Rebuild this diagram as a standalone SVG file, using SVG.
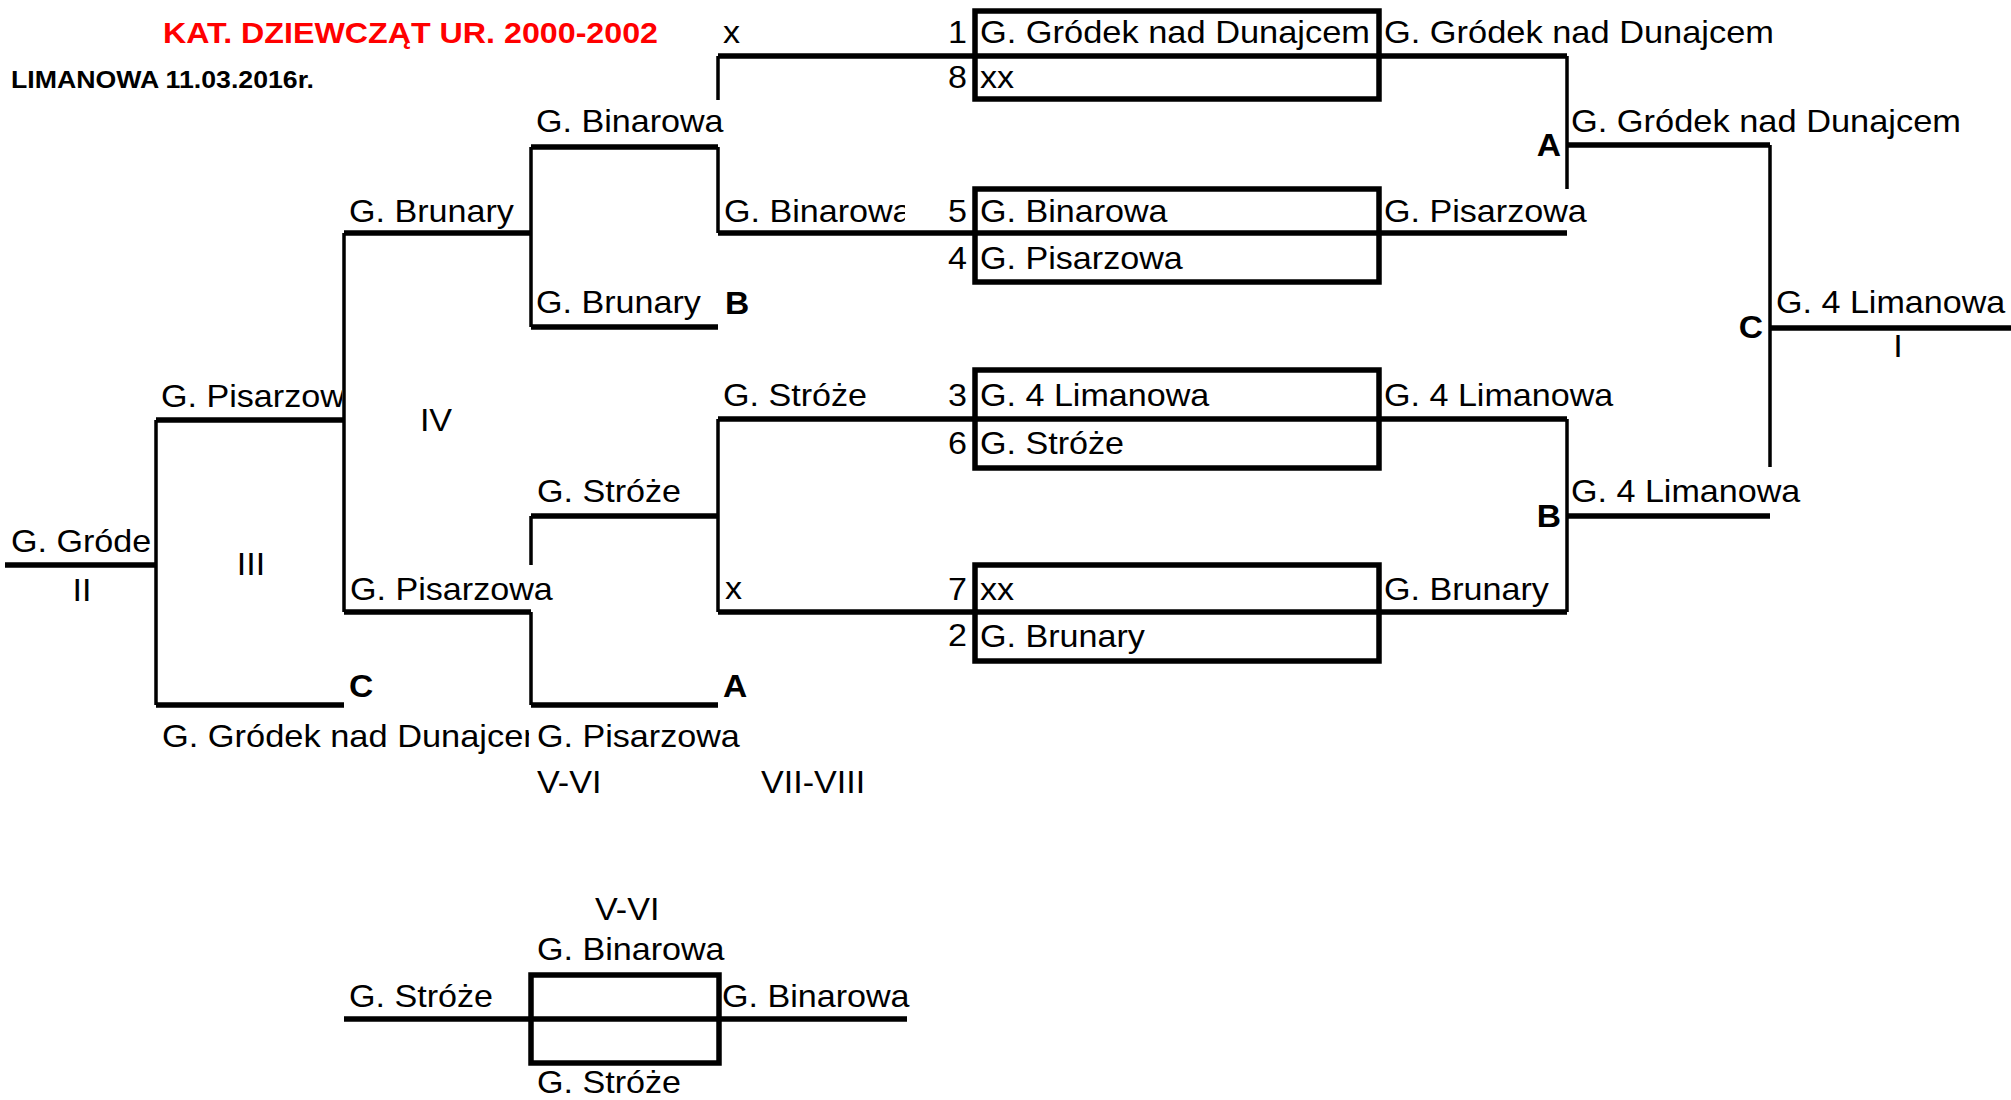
<svg xmlns="http://www.w3.org/2000/svg" width="2011" height="1100" viewBox="0 0 2011 1100">
<style>
.t{font-family:"Liberation Sans",Arial,sans-serif;font-size:31px;fill:#000}
.b{font-family:"Liberation Sans",Arial,sans-serif;font-size:32px;font-weight:bold;fill:#000}
.e{text-anchor:end}
.m{text-anchor:middle}
.h{stroke:#000;stroke-width:5.5;fill:none}
.v{stroke:#000;stroke-width:3.5;fill:none}
.box{stroke:#000;stroke-width:5.5;fill:none}
</style>
<defs>
<clipPath id="cBin"><rect x="700" y="180" width="205" height="60"/></clipPath>
<clipPath id="cGro"><rect x="150" y="710" width="379" height="50"/></clipPath>
<clipPath id="cPis"><rect x="150" y="370" width="192" height="48"/></clipPath>
</defs>

<g id="header">
<text x="163" y="43" textLength="495" lengthAdjust="spacingAndGlyphs" style="font-family:'Liberation Sans',Arial,sans-serif;font-size:30px;font-weight:bold;fill:#FF0000">KAT. DZIEWCZĄT UR. 2000-2002</text>
<text x="11" y="88" textLength="303" lengthAdjust="spacingAndGlyphs" style="font-family:'Liberation Sans',Arial,sans-serif;font-size:23px;font-weight:bold;fill:#000">LIMANOWA 11.03.2016r.</text>
</g>

<g id="connectors">
<path class="h" d="M5 565H156 M156 420H344 M156 705H344 M344 233H531 M344 612H531 M531 147H718 M531 327H718 M531 516H718 M531 705H718 M718 56H1567 M718 233H1567 M718 419H1567 M718 612H1567 M1567 145H1770 M1567 516H1770 M1770 328H2011 M344 1019H907"/>
<path class="v" d="M156 420V705 M344 233V612 M531 147V327 M531 516V565 M531 612V705 M718 56V100 M718 147V233 M718 419V612 M1567 56V189 M1567 419V612 M1770 145V467"/>
</g>

<g id="boxes">
<rect id="box-1-8" class="box" x="975" y="11" width="404" height="88"/>
<rect id="box-5-4" class="box" x="975" y="189" width="404" height="93"/>
<rect id="box-3-6" class="box" x="975" y="370" width="404" height="98"/>
<rect id="box-7-2" class="box" x="975" y="565" width="404" height="96"/>
<rect id="box-5-6" class="box" x="531" y="975" width="188" height="88"/>
</g>

<g id="seeds">
<text class="t e" transform="translate(967 43) scale(1.1 1)">1</text>
<text class="t e" transform="translate(967 88) scale(1.1 1)">8</text>
<text class="t e" transform="translate(967 222) scale(1.1 1)">5</text>
<text class="t e" transform="translate(967 269) scale(1.1 1)">4</text>
<text class="t e" transform="translate(967 406) scale(1.1 1)">3</text>
<text class="t e" transform="translate(967 454) scale(1.1 1)">6</text>
<text class="t e" transform="translate(967 600) scale(1.1 1)">7</text>
<text class="t e" transform="translate(967 646) scale(1.1 1)">2</text>
</g>

<g id="round1">
<text class="t" transform="translate(980 43) scale(1.11 1)">G. Gródek nad Dunajcem</text>
<text class="t" transform="translate(980 88) scale(1.1 1)">xx</text>
<text class="t" transform="translate(980 222) scale(1.1 1)">G. Binarowa</text>
<text class="t" transform="translate(980 269) scale(1.1 1)">G. Pisarzowa</text>
<text class="t" transform="translate(980 406) scale(1.1 1)">G. 4 Limanowa</text>
<text class="t" transform="translate(980 454) scale(1.1 1)">G. Stróże</text>
<text class="t" transform="translate(980 600) scale(1.1 1)">xx</text>
<text class="t" transform="translate(980 647) scale(1.1 1)">G. Brunary</text>
</g>

<g id="semis">
<text class="t" transform="translate(1384 43) scale(1.11 1)">G. Gródek nad Dunajcem</text>
<text class="t" transform="translate(1384 222) scale(1.1 1)">G. Pisarzowa</text>
<text class="t" transform="translate(1384 406) scale(1.1 1)">G. 4 Limanowa</text>
<text class="t" transform="translate(1384 600) scale(1.1 1)">G. Brunary</text>
<text class="b e" transform="translate(1561 156) scale(1.05 1)">A</text>
<text class="b e" transform="translate(1561 527) scale(1.05 1)">B</text>
</g>

<g id="final">
<text class="t" transform="translate(1571 132) scale(1.11 1)">G. Gródek nad Dunajcem</text>
<text class="t" transform="translate(1571 502) scale(1.1 1)">G. 4 Limanowa</text>
<text class="b e" transform="translate(1763 338) scale(1.05 1)">C</text>
<text class="t" transform="translate(1776 313) scale(1.1 1)">G. 4 Limanowa</text>
<text class="t m" transform="translate(1898 357) scale(1.1 1)">I</text>
</g>

<g id="losers-top">
<text class="t" transform="translate(723 43) scale(1.1 1)">x</text>
<text class="t" transform="translate(536 132) scale(1.1 1)">G. Binarowa</text>
<g clip-path="url(#cBin)"><text class="t" transform="translate(724 222) scale(1.1 1)">G. Binarowa</text></g>
<text class="t" transform="translate(349 222) scale(1.1 1)">G. Brunary</text>
<text class="t" transform="translate(536 313) scale(1.1 1)">G. Brunary</text>
<text class="b" transform="translate(725 314) scale(1.05 1)">B</text>
</g>

<g id="losers-bottom">
<text class="t" transform="translate(723 406) scale(1.1 1)">G. Stróże</text>
<text class="t" transform="translate(537 502) scale(1.1 1)">G. Stróże</text>
<text class="t" transform="translate(725 599) scale(1.1 1)">x</text>
<text class="t" transform="translate(350 600) scale(1.1 1)">G. Pisarzowa</text>
<text class="b" transform="translate(349 697) scale(1.05 1)">C</text>
<text class="b" transform="translate(723 697) scale(1.05 1)">A</text>
<text class="t" transform="translate(537 747) scale(1.1 1)">G. Pisarzowa</text>
<text class="t" transform="translate(537 793) scale(1.1 1)">V-VI</text>
<text class="t" transform="translate(761 793) scale(1.1 1)">VII-VIII</text>
<text class="t m" transform="translate(436 431) scale(1.1 1)">IV</text>
</g>

<g id="places-2-3">
<g clip-path="url(#cPis)"><text class="t" transform="translate(161 407) scale(1.1 1)">G. Pisarzow</text></g>
<text class="t" transform="translate(11 552) scale(1.1 1)">G. Gróde</text>
<text class="t m" transform="translate(251 575) scale(1.1 1)">III</text>
<text class="t m" transform="translate(82 601) scale(1.1 1)">II</text>
<g clip-path="url(#cGro)"><text class="t" transform="translate(162 747) scale(1.11 1)">G. Gródek nad Dunajcem</text></g>
</g>

<g id="match-5-6">
<text class="t" transform="translate(595 920) scale(1.1 1)">V-VI</text>
<text class="t" transform="translate(537 960) scale(1.1 1)">G. Binarowa</text>
<text class="t" transform="translate(349 1007) scale(1.1 1)">G. Stróże</text>
<text class="t" transform="translate(722 1007) scale(1.1 1)">G. Binarowa</text>
<text class="t" transform="translate(537 1093) scale(1.1 1)">G. Stróże</text>
</g>
</svg>
